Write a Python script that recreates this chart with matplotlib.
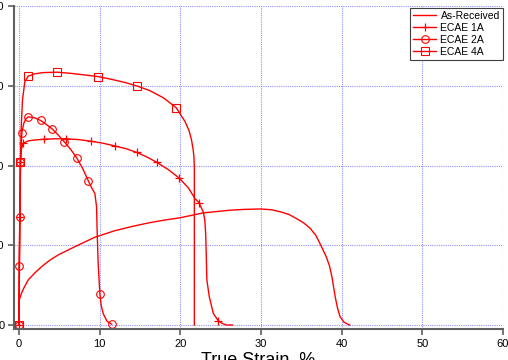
import matplotlib
matplotlib.use("Agg")
import matplotlib.pyplot as plt

plt.rcParams['font.family'] = ['Liberation Sans', 'DejaVu Sans']

# As-Received
ar_x = [0, 0.05, 0.3, 0.6, 1.16, 2.0, 2.8, 3.8, 4.9, 6.9, 9.4, 11.9, 14, 16.2, 18, 20, 22.8,
        26.2, 28, 30, 31.3, 32.4, 33.5, 34.4, 35.3, 36.1, 36.8, 37.3, 38.1, 38.5, 38.8,
        39.0, 39.2, 39.5, 39.8, 40.3, 41]
ar_y = [0, 63, 78, 92, 113, 131, 146, 162, 176, 196, 220, 236.5, 247, 256.6, 263, 269, 281,
        288, 290, 291, 289, 284, 277, 267, 256, 242.5, 225, 205, 171, 148, 121,
        96, 71, 42, 21, 7, 0]

# ECAE 1A
e1_x = [0, 0.12, 0.2, 0.3, 0.54, 1.2, 2, 3.14, 4.5, 5.9, 7.4, 8.9, 10.4, 11.9, 13.3, 14.6,
        15.9, 17.1, 18.5, 19.9, 21, 21.8, 22.3, 22.85, 23.05, 23.15, 23.2, 23.3, 23.6,
        24.1, 24.7, 25.2, 25.7, 26.5]
e1_y = [0, 270, 408, 440, 456, 462, 464, 466, 467, 467, 465, 461, 456, 449, 442, 433,
        421, 408, 390, 368, 344, 318, 307, 284, 263, 230, 196, 113, 71,
        29, 11, 4, 0, 0]
e1_marks = [0, 1, 2, 4, 7, 9, 11, 13, 15, 17, 19, 22, 30]

# ECAE 2A
e2_x = [0, 0.04, 0.12, 0.2, 0.37, 0.6, 0.85, 1.16, 1.9, 2.69, 3.4, 4.17, 4.9, 5.6, 6.4,
        7.15, 7.9, 8.6, 9.0, 9.42, 9.63, 9.7, 9.83, 10.04, 10.2, 10.45, 10.9, 11.5]
e2_y = [0, 148, 270, 408, 482, 505, 516, 522, 520, 513, 503, 491, 476, 460, 441,
        420, 393, 362, 345, 330, 297, 238, 155, 79, 50, 29, 10, 2]
e2_marks = [0, 1, 2, 3, 4, 7, 9, 11, 13, 15, 17, 23, 27]

# ECAE 4A
e4_x = [0, 0.15, 0.2, 0.3, 0.45, 0.74, 1.16, 2, 3, 4.75, 6.5, 8.2, 9.83, 11.5, 13.2, 14.7,
        16.2, 17.9, 19.5, 20.6, 21.1, 21.4, 21.6, 21.7, 21.75, 21.75]
e4_y = [0, 300, 408, 500, 564, 610, 624, 630, 633, 634, 631, 627, 623, 616, 608, 599,
        588, 570, 545, 510, 487, 464, 440, 422, 395, 0]
e4_marks = [0, 2, 6, 9, 12, 15, 18]

x_ticks = [0, 10, 20, 30, 40, 50, 60]
y_ticks = [0, 200, 400, 600, 800]

fig = plt.figure(figsize=(5.08, 3.6), dpi=100)
ax = fig.add_axes([14/508, 1 - 329/360, (503 - 14)/508, (329 - 6)/360])

red = '#ff0000'
ax.plot(ar_x, ar_y, color=red, lw=1.0, label='As-Received')
ax.plot(e1_x, e1_y, color=red, lw=1.0, marker='+', markersize=6, markeredgewidth=0.9,
        markevery=e1_marks, label='ECAE 1A')
ax.plot(e2_x, e2_y, color=red, lw=1.0, marker='o', markersize=5.5, markerfacecolor='none',
        markeredgewidth=0.8, markevery=e2_marks, label='ECAE 2A')
ax.plot(e4_x, e4_y, color=red, lw=1.0, marker='s', markersize=5.5, markerfacecolor='none',
        markeredgewidth=0.8, markevery=e4_marks, label='ECAE 4A')

ax.set_xlim(-0.6, 60)
ax.set_ylim(-10, 800)
ax.set_xticks(x_ticks)
ax.set_yticks(y_ticks)
ax.grid(True, color='#9090ff', linestyle=(0, (1, 1)), linewidth=0.8)
ax.set_axisbelow(True)

for s in ['top', 'right']:
    ax.spines[s].set_visible(False)
for s in ['left', 'bottom']:
    ax.spines[s].set_color('#606060')
    ax.spines[s].set_linewidth(1.5)
ax.tick_params(axis='both', colors='#606060', labelcolor='black', labelsize=8,
               length=4, width=1.2, pad=3)

ax.set_xlabel('True Strain, %', fontsize=13, labelpad=2)

leg = ax.legend(loc='upper right', bbox_to_anchor=(1.0, 0.995), fontsize=7.5,
                frameon=True, fancybox=False, framealpha=1, edgecolor='#404040',
                handlelength=2.2, borderpad=0.3, labelspacing=0.2, handletextpad=0.4,
                borderaxespad=0.0)
leg.get_frame().set_linewidth(0.8)

fig.savefig('out.png', dpi=100)
